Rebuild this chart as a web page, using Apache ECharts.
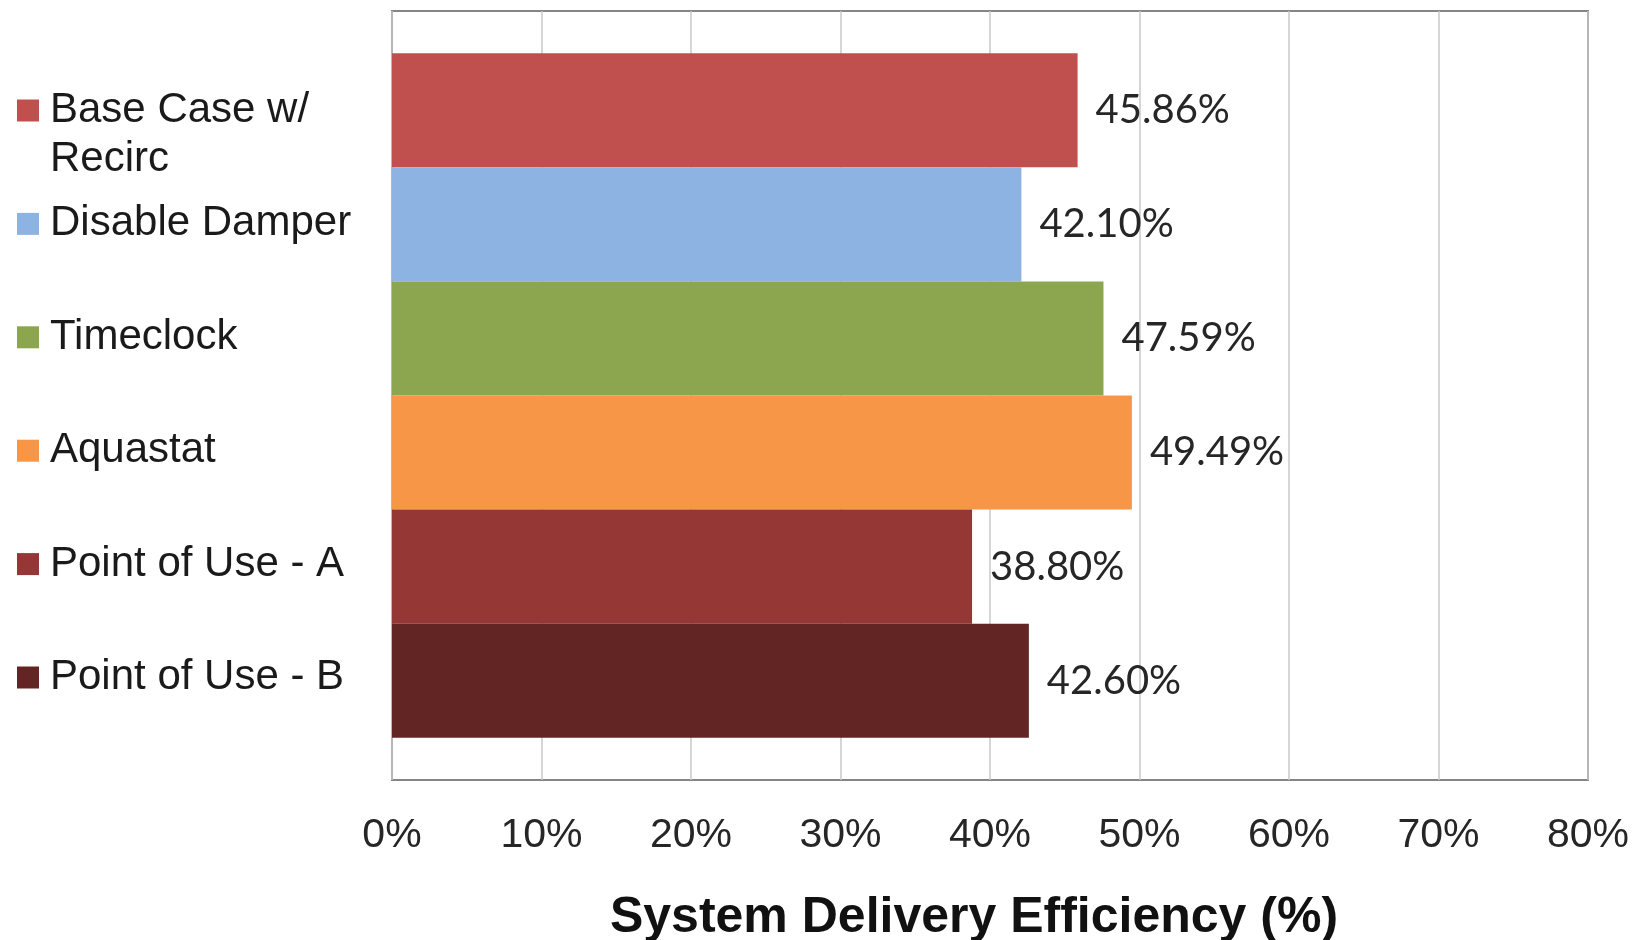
<!DOCTYPE html>
<html>
<head>
<meta charset="utf-8">
<title>System Delivery Efficiency</title>
<script src="https://cdn.jsdelivr.net/npm/echarts@6/dist/echarts.min.js"></script>
<style>
  html, body { margin: 0; padding: 0; background: #ffffff; }
  #chart { width: 1646px; height: 940px; }
</style>
</head>
<body>
<div id="chart"></div>
<script>
// Strategies compared, top to bottom
const strategies = [
  'Base Case w/ Recirc',
  'Disable Damper',
  'Timeclock',
  'Aquastat',
  'Point of Use - A',
  'Point of Use - B'
];
// System delivery efficiency of each strategy, in percent
const efficiency = [45.86, 42.10, 47.59, 49.49, 38.80, 42.60];
const barColors = ['#C0504D', '#8DB3E2', '#8BA64F', '#F79646', '#953735', '#632523'];
const axisMin = 0;
const axisMax = 80;
const axisStep = 10;
const axisTitle = 'System Delivery Efficiency (%)';

const LEGEND_LINE = 49;

const series = strategies.map((name, i) => ({
  name: name,
  type: 'bar',
  data: [efficiency[i]],
  barGap: '0%',
  barCategoryGap: '11%',
  itemStyle: { color: barColors[i] },
  label: {
    show: true,
    position: 'right',
    distance: 18,
    fontFamily: 'Lato',
    fontSize: 40,
    color: '#262626',
    formatter: p => p.value.toFixed(2) + '%'
  }
}));

// Every legend entry is three lines tall so the markers line up with the
// bars; the wrapped entry puts its first line level with its marker.
const legendData = strategies.map((name, i) => ({
  name: name,
  textStyle: {
    padding: i === 0 ? [0, 0, 0, 6] : [LEGEND_LINE, 0, LEGEND_LINE, 6]
  }
}));

const chart = echarts.init(document.getElementById('chart'), null, { renderer: 'canvas' });
chart.setOption({
  animation: false,
  backgroundColor: '#ffffff',
  legend: {
    orient: 'vertical',
    left: 17,
    top: 37,
    padding: 0,
    itemWidth: 22,
    itemHeight: 22,
    itemGap: -33.6,
    icon: 'rect',
    selectedMode: false,
    data: legendData,
    formatter: name => name.indexOf('w/ ') >= 0 ? ' \n' + name.replace('w/ ', 'w/\n') : name,
    textStyle: {
      fontFamily: 'Liberation Sans, Arial, sans-serif',
      fontSize: 42,
      lineHeight: LEGEND_LINE,
      color: '#1a1a1a'
    }
  },
  grid: {
    left: 392,
    right: 58,
    top: 11,
    bottom: 160,
    outerBoundsMode: 'none',
    containLabel: false,
    show: true,
    borderColor: '#858585',
    borderWidth: 2,
    backgroundColor: 'transparent'
  },
  xAxis: {
    type: 'value',
    min: axisMin,
    max: axisMax,
    interval: axisStep,
    axisLine: { show: false },
    axisTick: { show: false },
    splitLine: { show: true, lineStyle: { color: '#c8c8c8', width: 1.5 } },
    axisLabel: {
      formatter: '{value}%',
      fontFamily: 'Liberation Sans, Arial, sans-serif',
      fontSize: 41,
      color: '#262626',
      margin: 35
    },
    name: axisTitle,
    nameLocation: 'middle',
    nameGap: 113,
    nameTextStyle: {
      fontFamily: 'Liberation Sans, Arial, sans-serif',
      fontWeight: 'bold',
      fontSize: 50,
      color: '#111111',
      padding: [0, 32, 0, 0]
    }
  },
  yAxis: {
    type: 'category',
    data: [''],
    axisLine: { show: false },
    axisTick: { show: false },
    axisLabel: { show: false },
    splitLine: { show: false }
  },
  series: series
});
</script>
</body>
</html>
